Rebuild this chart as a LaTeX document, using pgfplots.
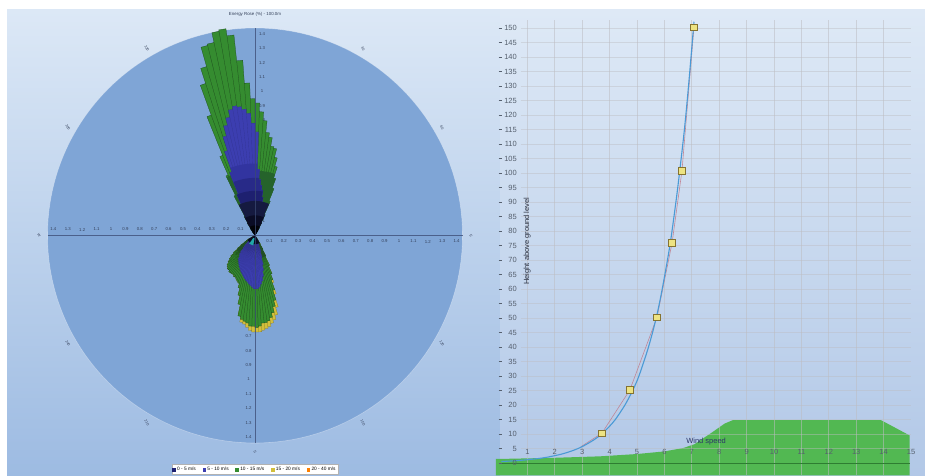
\documentclass[border=0pt]{standalone}
\usepackage{fontspec}
\setmainfont{Liberation Sans}
\usepackage{pgfplots}
\usepackage{pgfplotstable}
\pgfplotsset{compat=1.18}
\usepgfplotslibrary{polar}

\definecolor{lbgtop}{HTML}{DCE8F6}
\definecolor{lbgbot}{HTML}{9DBBE2}
\definecolor{rbgtop}{HTML}{DEE9F6}
\definecolor{rbgbot}{HTML}{B2C8E7}
\definecolor{circ}{HTML}{7FA5D6}
\definecolor{axc}{HTML}{3A4A72}
\definecolor{labc}{HTML}{34405A}
\definecolor{yel}{HTML}{D2BF3C}
\definecolor{grn}{HTML}{358C30}
\definecolor{grnedge}{HTML}{1C4A1C}
\definecolor{dgrn}{HTML}{25632B}
\definecolor{dgrnlow}{HTML}{214F26}
\definecolor{blu}{HTML}{3C3EB0}
\definecolor{blu1}{HTML}{3234A0}
\definecolor{blu2}{HTML}{282A88}
\definecolor{blu3}{HTML}{1E2070}
\definecolor{blu4}{HTML}{151A40}
\definecolor{blu5}{HTML}{0A0C25}
\definecolor{blu6}{HTML}{020308}
\definecolor{teal2}{HTML}{22A8A8}
\definecolor{areac}{HTML}{52B852}
\definecolor{arealine}{HTML}{2E7D32}
\definecolor{curve}{HTML}{4A9AD6}
\definecolor{curve2}{HTML}{C07A8A}
\definecolor{mfill}{HTML}{EDE382}
\definecolor{mdraw}{HTML}{857330}
\definecolor{tickc}{HTML}{56606E}
\definecolor{gridc}{HTML}{BDBDC2}
\definecolor{txtc}{HTML}{2A3040}
\definecolor{wsc}{HTML}{2B3568}

% wind rose, northern lobe: a = math angle (deg), T = total, G = up to green, B = up to blue (%)
\pgfplotstableread{
a T G B
0 0 0 0
126 0.03 0.03 0
124 0.03 0.03 0
0 0 0 0
124 0.06 0.06 0
122 0.06 0.06 0
0 0 0 0
122 0.10 0.10 0
120 0.10 0.10 0
0 0 0 0
120 0.15 0.15 0.04
118 0.15 0.15 0.04
0 0 0 0
118 0.31 0.31 0.08
116 0.31 0.31 0.08
0 0 0 0
116 0.46 0.46 0.16
114 0.46 0.46 0.16
0 0 0 0
114 0.60 0.60 0.31
112 0.60 0.60 0.31
0 0 0 0
112 0.89 0.89 0.47
110 0.89 0.89 0.47
0 0 0 0
110 1.11 1.11 0.62
108 1.11 1.11 0.62
0 0 0 0
108 1.22 1.22 0.72
106 1.22 1.22 0.72
0 0 0 0
106 1.36 1.36 0.79
104 1.36 1.36 0.79
0 0 0 0
104 1.37 1.37 0.84
102 1.37 1.37 0.84
0 0 0 0
102 1.44 1.44 0.89
100 1.44 1.44 0.89
0 0 0 0
100 1.45 1.45 0.91
98 1.45 1.45 0.91
0 0 0 0
98 1.40 1.40 0.90
96 1.40 1.40 0.90
0 0 0 0
96 1.22 1.22 0.88
94 1.22 1.22 0.88
0 0 0 0
94 1.06 1.06 0.85
92 1.06 1.06 0.85
0 0 0 0
92 0.95 0.95 0.78
90 0.95 0.95 0.78
0 0 0 0
90 0.92 0.92 0.72
88 0.92 0.92 0.72
0 0 0 0
88 0.86 0.86 0.46
86 0.86 0.86 0.46
0 0 0 0
86 0.80 0.80 0.39
84 0.80 0.80 0.39
0 0 0 0
84 0.72 0.72 0.35
82 0.72 0.72 0.35
0 0 0 0
82 0.69 0.69 0.32
80 0.69 0.69 0.32
0 0 0 0
80 0.63 0.63 0.27
78 0.63 0.63 0.27
0 0 0 0
78 0.62 0.62 0.21
76 0.62 0.62 0.21
0 0 0 0
76 0.56 0.56 0.15
74 0.56 0.56 0.15
0 0 0 0
74 0.50 0.50 0.10
72 0.50 0.50 0.10
0 0 0 0
72 0.42 0.42 0.06
70 0.42 0.42 0.06
0 0 0 0
70 0.35 0.35 0.04
68 0.35 0.35 0.04
0 0 0 0
68 0.26 0.26 0
66 0.26 0.26 0
0 0 0 0
66 0.16 0.16 0
64 0.16 0.16 0
0 0 0 0
64 0.10 0.10 0
62 0.10 0.10 0
0 0 0 0
62 0.06 0.06 0
60 0.06 0.06 0
0 0 0 0
60 0.04 0.04 0
58 0.04 0.04 0
}\uptab

% southern lobe
\pgfplotstableread{
a T G B
0 0 0 0
-54 0.02 0.02 0
-56 0.02 0.02 0
0 0 0 0
-56 0.04 0.04 0
-58 0.04 0.04 0
0 0 0 0
-58 0.07 0.07 0
-60 0.07 0.07 0
0 0 0 0
-60 0.11 0.11 0
-62 0.11 0.11 0
0 0 0 0
-62 0.16 0.16 0
-64 0.16 0.16 0
0 0 0 0
-64 0.23 0.23 0.03
-66 0.23 0.23 0.03
0 0 0 0
-66 0.29 0.29 0.05
-68 0.29 0.29 0.05
0 0 0 0
-68 0.35 0.33 0.08
-70 0.35 0.33 0.08
0 0 0 0
-70 0.43 0.40 0.12
-72 0.43 0.40 0.12
0 0 0 0
-72 0.52 0.47 0.16
-74 0.52 0.47 0.16
0 0 0 0
-74 0.57 0.51 0.21
-76 0.57 0.51 0.21
0 0 0 0
-76 0.60 0.55 0.25
-78 0.60 0.55 0.25
0 0 0 0
-78 0.62 0.58 0.29
-80 0.62 0.58 0.29
0 0 0 0
-80 0.64 0.60 0.32
-82 0.64 0.60 0.32
0 0 0 0
-82 0.65 0.61 0.34
-84 0.65 0.61 0.34
0 0 0 0
-84 0.66 0.61 0.36
-86 0.66 0.61 0.36
0 0 0 0
-86 0.67 0.63 0.37
-88 0.67 0.63 0.37
0 0 0 0
-88 0.67 0.64 0.37
-90 0.67 0.64 0.37
0 0 0 0
-90 0.67 0.63 0.37
-92 0.67 0.63 0.37
0 0 0 0
-92 0.66 0.63 0.36
-94 0.66 0.63 0.36
0 0 0 0
-94 0.64 0.61 0.35
-96 0.64 0.61 0.35
0 0 0 0
-96 0.62 0.60 0.34
-98 0.62 0.60 0.34
0 0 0 0
-98 0.61 0.59 0.33
-100 0.61 0.59 0.33
0 0 0 0
-100 0.57 0.57 0.32
-102 0.57 0.57 0.32
0 0 0 0
-102 0.49 0.49 0.31
-104 0.49 0.49 0.31
0 0 0 0
-104 0.43 0.43 0.30
-106 0.43 0.43 0.30
0 0 0 0
-106 0.38 0.38 0.29
-108 0.38 0.38 0.29
0 0 0 0
-108 0.35 0.35 0.28
-110 0.35 0.35 0.28
0 0 0 0
-110 0.34 0.34 0.27
-112 0.34 0.34 0.27
0 0 0 0
-112 0.33 0.33 0.26
-114 0.33 0.33 0.26
0 0 0 0
-114 0.32 0.32 0.25
-116 0.32 0.32 0.25
0 0 0 0
-116 0.32 0.32 0.24
-118 0.32 0.32 0.24
0 0 0 0
-118 0.31 0.31 0.23
-120 0.31 0.31 0.23
0 0 0 0
-120 0.31 0.31 0.22
-122 0.31 0.31 0.22
0 0 0 0
-122 0.31 0.31 0.21
-124 0.31 0.31 0.21
0 0 0 0
-124 0.31 0.31 0.20
-126 0.31 0.31 0.20
0 0 0 0
-126 0.30 0.30 0.18
-128 0.30 0.30 0.18
0 0 0 0
-128 0.30 0.30 0.17
-130 0.30 0.30 0.17
0 0 0 0
-130 0.29 0.29 0.15
-132 0.29 0.29 0.15
0 0 0 0
-132 0.28 0.28 0.12
-134 0.28 0.28 0.12
0 0 0 0
-134 0.26 0.26 0.10
-136 0.26 0.26 0.10
0 0 0 0
-136 0.24 0.24 0.07
-138 0.24 0.24 0.07
0 0 0 0
-138 0.22 0.22 0.05
-140 0.22 0.22 0.05
0 0 0 0
-140 0.19 0.19 0.03
-142 0.19 0.19 0.03
0 0 0 0
-142 0.15 0.15 0
-144 0.15 0.15 0
0 0 0 0
-144 0.12 0.12 0
-146 0.12 0.12 0
0 0 0 0
-146 0.09 0.09 0
-148 0.09 0.09 0
0 0 0 0
-148 0.07 0.07 0
-150 0.07 0.07 0
0 0 0 0
-150 0.05 0.05 0
-152 0.05 0.05 0
0 0 0 0
-152 0.03 0.03 0
-154 0.03 0.03 0
}\lowtab

\begin{document}
\begin{tikzpicture}[x=1pt,y=1pt]
\path[use as bounding box, fill=white] (0,0) rectangle (925,475);
% panel backgrounds
\shade[top color=lbgtop, bottom color=lbgbot] (7,0) rectangle (500,465);
\shade[top color=rbgtop, bottom color=rbgbot] (500,0) rectangle (925,465);
% rose disc
\fill[circ] (255,239.5) circle (207.5);
\draw[white, opacity=0.35, line width=0.6pt] (255,239.5) circle (207.5);
% rose tick labels
\begin{scope}[every node/.style={font=\fontsize{4.3}{5}\selectfont, text=labc, inner sep=0pt}]
\foreach \i/\t in {1/0.1,2/0.2,3/0.3,4/0.4,5/0.5,6/0.6,7/0.7,8/0.8,9/0.9,10/1,11/1.1,12/1.2,13/1.3,14/1.4}{
  \node at ({255-14.4*\i},245.5) {\t};
  \node at ({255+14.4*\i},233.5) {\t};
  \node at (262,{239.5+14.4*\i}) {\t};
  \node at (248.5,{239.5-14.4*\i}) {\t};
}
\foreach \p/\t in {30/30,60/60,90/E,120/120,150/150,180/S,210/210,240/240,270/W,300/300,330/330}{
  \node[rotate=-60, font=\fontsize{3.6}{4}\selectfont] at ([shift={({90-\p}:216pt)}]255,239.5) {\t};
}
\node[font=\fontsize{4.4}{5}\selectfont] at (255,461) {Energy Rose (\%) - 100.0m};
\end{scope}

% ---------------- wind rose ----------------
\begin{axis}[at={(10.2pt,1.9pt)}, anchor=south west, x=144pt, y=144pt,
  xmin=-1.70, xmax=1.70, ymin=-1.65, ymax=1.55, hide axis, clip=false,
  legend columns=5,
  legend style={at={(0.5,0.0078)}, anchor=center, draw=gray!60, fill=white,
    font=\fontsize{4.8}{5.5}\selectfont, inner sep=0.6pt, row sep=0pt,
    /tikz/every even column/.append style={column sep=5pt}},
  rose/.style={forget plot, data cs=polar}]
% northern lobe
\addplot[rose, fill=grn, draw=grnedge, line width=0.25pt] table[x=a,y=G]{\uptab};
\addplot[rose, fill=dgrn, draw=none] table[x=a,y expr={min(\thisrow{G},0.45)}]{\uptab};
\addplot[rose, fill=blu, draw=blu!80!black, line width=0.15pt] table[x=a,y=B]{\uptab};
\addplot[rose, fill=blu1, draw=none] table[x=a,y expr={min(\thisrow{B},0.50)}]{\uptab};
\addplot[rose, fill=blu2, draw=none] table[x=a,y expr={min(\thisrow{B},0.40)}]{\uptab};
\addplot[rose, fill=blu3, draw=none] table[x=a,y expr={min(\thisrow{B},0.31)}]{\uptab};
\addplot[rose, fill=blu4, draw=none] table[x=a,y expr={min(\thisrow{T},0.24)}]{\uptab};
\addplot[rose, fill=blu5, draw=none] table[x=a,y expr={min(\thisrow{T},0.14)}]{\uptab};
\addplot[rose, fill=blu6, draw=none] table[x=a,y expr={min(\thisrow{T},0.07)}]{\uptab};
% southern lobe
\addplot[rose, fill=yel, draw=yel!60!black, line width=0.2pt] table[x=a,y=T]{\lowtab};
\addplot[rose, fill=grn, draw=grnedge, line width=0.25pt] table[x=a,y=G]{\lowtab};
\addplot[rose, fill=dgrnlow, draw=none] table[x=a,y expr={min(\thisrow{G},0.16)}]{\lowtab};
\addplot[rose, fill=blu, draw=blu!80!black, line width=0.15pt] table[x=a,y=B]{\lowtab};
\addplot[rose, fill=blu5, draw=none] table[x=a,y expr={min(\thisrow{T},0.06)}]{\lowtab};
\addplot[rose, fill=teal2, draw=none] coordinates {(-100,0.02) (-100,0.07) (-125,0.07) (-125,0.02)};
% legend
\addlegendimage{only marks, mark=square*, mark size=1.3pt, color=blu3}
\addlegendimage{only marks, mark=square*, mark size=1.3pt, color=blu}
\addlegendimage{only marks, mark=square*, mark size=1.3pt, color=grn}
\addlegendimage{only marks, mark=square*, mark size=1.3pt, color=yel}
\addlegendimage{only marks, mark=square*, mark size=1.3pt, color=orange}
\legend{0 - 5 m/s, 5 - 10 m/s, 10 - 15 m/s, 15 - 20 m/s, 20 - 40 m/s}
\end{axis}
% rose cross lines
\draw[axc, opacity=0.75, line width=0.5pt] (47.5,239.5) -- (462.5,239.5);
\draw[axc, opacity=0.75, line width=0.5pt] (255,32) -- (255,447);

% ---------------- wind profile ----------------
\begin{axis}[at={(495.89pt,-0.47pt)}, anchor=south west, x=27.4pt, y=2.9pt,
  xmin=-0.15, xmax=15.4, ymin=-4.3, ymax=153, hide axis, clip=true]
\addplot[fill=areac, draw=none] coordinates {(-0.15,-4.3) (-0.15,1.4) (0,1.4) (2,1.8) (3.65,2.3) (5,3.1) (6,4) (6.7,5.2) (7.1,6.5) (7.7,10.3) (8.2,13.6) (8.5,14.8) (13.9,14.8) (14.95,9.5) (14.95,-4.3)};
\pgfplotsinvokeforeach{1,...,14}{\draw[gridc, opacity=0.55, line width=0.9pt] (axis cs:#1,-4.3) -- (axis cs:#1,152.8);}
\pgfplotsinvokeforeach{5,10,...,150}{\draw[gridc, opacity=0.45, line width=0.5pt] (axis cs:0.75,#1) -- (axis cs:15,#1);}
\draw[arealine, line width=1pt] (axis cs:0,0) -- (axis cs:14.95,0);
\addplot[curve2, line width=0.6pt, opacity=0.85] coordinates {(2.95,5.6) (3.72,10.3) (4.74,25.2) (5.73,50.3) (6.28,75.9) (6.64,100.7) (7.08,150.3)};
\addplot[curve, line width=1.1pt, smooth] coordinates {(0.05,0.52) (0.23,0.6) (0.58,0.8) (0.86,1) (1.36,1.5) (1.72,2) (2.22,3) (2.57,4) (2.85,5) (3.07,6) (3.43,8) (3.71,10) (3.98,12.5) (4.21,15) (4.56,20) (4.84,25) (5.07,30) (5.42,40) (5.70,50) (5.92,60) (6.20,75) (6.42,90) (6.55,100) (6.73,115) (6.88,130) (7.06,150) (7.08,152)};
\addplot[only marks, mark=square*, mark size=3.3pt, mark options={fill=mfill, draw=mdraw, line width=0.6pt}] coordinates {(3.72,10.3) (4.74,25.2) (5.73,50.3) (6.28,75.9) (6.64,100.7) (7.08,150.3)};
\pgfplotsinvokeforeach{0,5,...,150}{\node[anchor=east, inner sep=0pt, font=\fontsize{7.5}{8}\selectfont, text=tickc] at (axis cs:0.62,#1) {#1};
  \draw[tickc, line width=0.4pt] (axis cs:-0.05,#1) -- (axis cs:0.08,#1);}
\pgfplotsinvokeforeach{1,...,15}{\node[inner sep=0pt, font=\fontsize{7.5}{8}\selectfont, text=tickc] at (axis cs:#1,3.9) {#1};}
\node[rotate=90, inner sep=0pt, font=\fontsize{7.5}{8}\selectfont, text=txtc] at (axis cs:0.99,76.5) {Height above ground level};
\node[inner sep=0pt, font=\fontsize{7.5}{8}\selectfont, text=wsc] at (axis cs:7.52,7.3) {Wind speed};
\end{axis}
\end{tikzpicture}
\end{document}
